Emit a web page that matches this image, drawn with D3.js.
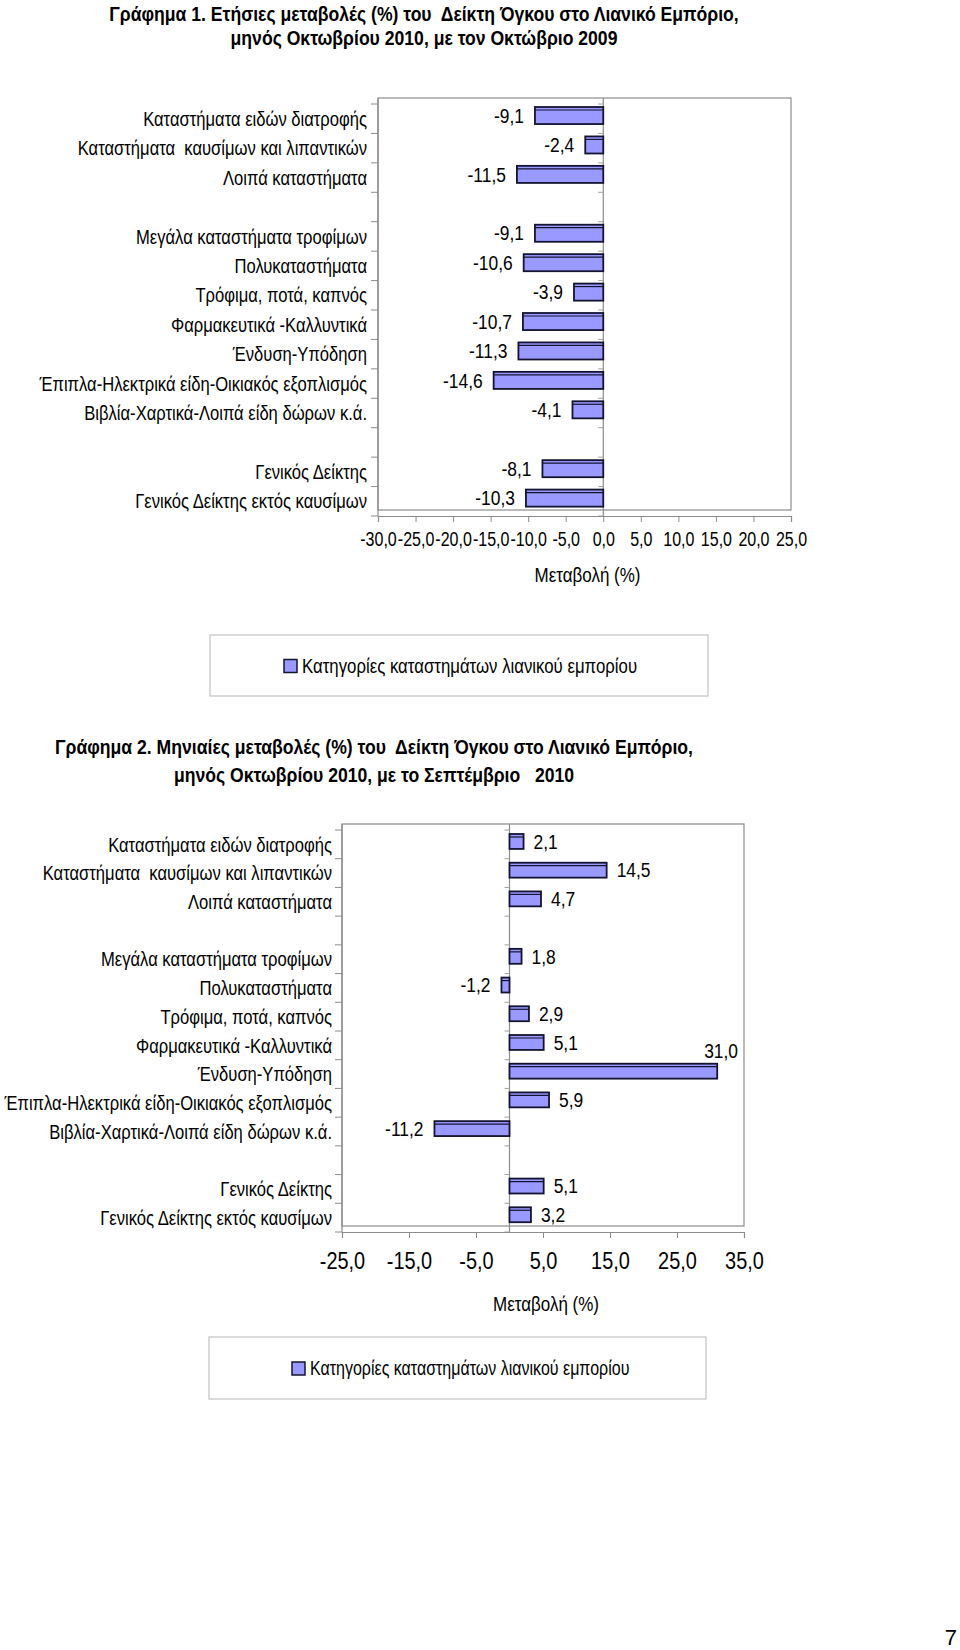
<!DOCTYPE html>
<html>
<head>
<meta charset="utf-8">
<script src="https://cdn.jsdelivr.net/npm/d3@7"></script>
<style>
  body { margin: 0; background: #fff; }
  text { font-family: 'Liberation Sans', Arial, sans-serif; fill: #000; white-space: pre; }
  .title { font-weight: bold; font-size: 20px; }
</style>
</head>
<body>
<svg id="page" width="960" height="1650"></svg>
<script>
// categories ("" = empty spacer row in the original chart)
var categories = [
    "Καταστήματα ειδών διατροφής",
    "Καταστήματα  καυσίμων και λιπαντικών",
    "Λοιπά καταστήματα",
    "",
    "Μεγάλα καταστήματα τροφίμων",
    "Πολυκαταστήματα",
    "Τρόφιμα, ποτά, καπνός",
    "Φαρμακευτικά -Καλλυντικά",
    "Ένδυση-Υπόδηση",
    "Έπιπλα-Ηλεκτρικά είδη-Οικιακός εξοπλισμός",
    "Βιβλία-Χαρτικά-Λοιπά είδη δώρων κ.ά.",
    "",
    "Γενικός Δείκτης",
    "Γενικός Δείκτης εκτός καυσίμων"
];

// Γράφημα 1: annual change Oct 2010 / Oct 2009
var annualValues = [-9.1, -2.4, -11.5, null, -9.1, -10.6, -3.9, -10.7, -11.3, -14.6, -4.1, null, -8.1, -10.3];
var annualTicks = [-30, -25, -20, -15, -10, -5, 0, 5, 10, 15, 20, 25];

// Γράφημα 2: monthly change Oct 2010 / Sep 2010
var monthlyValues = [2.1, 14.5, 4.7, null, 1.8, -1.2, 2.9, 5.1, 31.0, 5.9, -11.2, null, 5.1, 3.2];
var monthlyTicks = [-25, -15, -5, 5, 15, 25, 35];

var title1 = ["Γράφημα 1. Ετήσιες μεταβολές (%) του  Δείκτη Όγκου στο Λιανικό Εμπόριο,",
              "μηνός Οκτωβρίου 2010, με τον Οκτώβριο 2009"];
var title2 = ["Γράφημα 2. Μηνιαίες μεταβολές (%) του  Δείκτη Όγκου στο Λιανικό Εμπόριο,",
              "μηνός Οκτωβρίου 2010, με το Σεπτέμβριο   2010"];
var axisTitle = "Μεταβολή (%)";
var legendLabel = "Κατηγορίες καταστημάτων λιανικού εμπορίου";

var fmt = function(v) { return d3.format(".1f")(v).replace(".", ",").replace("\u2212", "-"); };

var svg = d3.select("#page");

// the source uses a narrow face; squeeze texts horizontally around their anchor
function squeeze(sel, sx) {
    sel.each(function() {
        var t = d3.select(this);
        var x = +t.attr("x") || 0, y = +t.attr("y") || 0;
        t.attr("x", 0).attr("y", 0)
         .attr("transform", "translate(" + x + "," + y + ") scale(" + sx + ",1)");
    });
}

function drawTitle(lines, cx, y0, gap) {
    var t = svg.selectAll(null).data(lines).enter().append("text")
        .attr("class", "title")
        .attr("x", cx)
        .attr("y", (d, i) => y0 + i * gap)
        .attr("text-anchor", "middle")
        .text(d => d);
    squeeze(t, 0.88);
}

function drawChart(o) {
    var x = d3.scaleLinear().domain(o.domain).range([o.left, o.right]);
    var y = d3.scaleBand().domain(d3.range(categories.length)).range([o.top + 6, o.bottom + 6]);
    var g = svg.append("g");
    var x0 = x(0);

    // back wall
    g.append("rect")
        .attr("x", o.left).attr("y", o.top)
        .attr("width", o.right - o.left).attr("height", o.bottom - o.top)
        .attr("fill", "none").attr("stroke", "#8c8c8c").attr("stroke-width", 1.2);
    g.append("line")
        .attr("x1", o.left).attr("x2", o.left)
        .attr("y1", o.top).attr("y2", o.bottom + 6)
        .attr("stroke", "#8c8c8c").attr("stroke-width", 1.2);

    // zero line with its small ticks
    g.append("line")
        .attr("x1", x0).attr("x2", x0)
        .attr("y1", o.top).attr("y2", o.bottom + 6)
        .attr("stroke", "#8c8c8c").attr("stroke-width", 1.2);
    var bounds = d3.range(categories.length + 1).map(i => o.top + 6 + i * y.step());
    g.selectAll(".ztick").data(bounds).enter().append("line")
        .attr("x1", x0 - 5).attr("x2", x0)
        .attr("y1", d => d).attr("y2", d => d)
        .attr("stroke", "#a0a0a0");

    // category axis ticks + labels
    g.selectAll(".ctick").data(bounds).enter().append("line")
        .attr("x1", o.left - 7).attr("x2", o.left)
        .attr("y1", d => d).attr("y2", d => d)
        .attr("stroke", "#8c8c8c");
    var cats = g.selectAll(".cat").data(categories).enter().append("text")
        .attr("x", o.labelRight)
        .attr("y", (d, i) => y(i) + y.bandwidth() / 2)
        .attr("dy", "0.36em")
        .attr("text-anchor", "end")
        .style("font-size", "20px")
        .text(d => d);
    squeeze(cats, 0.83);

    // value axis
    var ax = g.append("g")
        .attr("transform", "translate(0," + (o.bottom + 6) + ")")
        .call(d3.axisBottom(x).tickValues(o.ticks).tickFormat(fmt).tickSize(6).tickPadding(o.tickPad));
    ax.select(".domain").attr("stroke", "#8c8c8c").attr("stroke-width", 1.2);
    ax.selectAll(".tick line").attr("stroke", "#8c8c8c");
    var tt = ax.selectAll(".tick text")
        .style("font-size", o.tickSize + "px")
        .style("font-family", "'Liberation Sans', Arial, sans-serif")
        .attr("fill", "#000");
    squeeze(tt, o.tickSx);

    var at = g.append("text")
        .attr("x", (o.left + o.right) / 2 + 3)
        .attr("y", o.axisTitleY)
        .attr("text-anchor", "middle")
        .style("font-size", "20px")
        .text(axisTitle);
    squeeze(at, 0.85);

    // bars
    var rows = o.values.map((v, i) => ({ v: v, i: i })).filter(d => d.v !== null);
    var barH = y.bandwidth() * o.barFrac;
    var bars = g.selectAll(".bar").data(rows).enter().append("g");
    bars.append("rect")
        .attr("x", d => Math.min(x(d.v), x0))
        .attr("y", d => y(d.i) + o.barOffset)
        .attr("width", d => Math.abs(x(d.v) - x0))
        .attr("height", barH)
        .attr("fill", "#9999ff")
        .attr("stroke", "#141432")
        .attr("stroke-width", 1.8);
    // thin top face of the 3-D bar
    bars.append("line")
        .attr("x1", d => Math.min(x(d.v), x0))
        .attr("x2", d => Math.max(x(d.v), x0))
        .attr("y1", d => y(d.i) + o.barOffset + 3)
        .attr("y2", d => y(d.i) + o.barOffset + 3)
        .attr("stroke", "#141432")
        .attr("stroke-width", 1.2);

    // value labels
    var vals = g.selectAll(".val").data(rows).enter().append("text")
        .style("font-size", "20px")
        .each(function(d) {
            var t = d3.select(this);
            var cy = y(d.i) + o.barOffset + barH / 2;
            var xe = x(d.v);
            if (d.v < 0) {
                t.attr("x", xe - 11).attr("y", cy).attr("dy", "0.36em").attr("text-anchor", "end");
            } else if (xe + 60 > o.right) {
                // no room to the right: sit on top of the bar end
                t.attr("x", Math.min(xe + 22, o.right - 6)).attr("y", cy - barH / 2 - 6).attr("text-anchor", "end");
            } else {
                t.attr("x", xe + 10).attr("y", cy).attr("dy", "0.36em").attr("text-anchor", "start");
            }
            t.text(fmt(d.v));
        });
    squeeze(vals, 0.87);

    // legend
    var lg = svg.append("g");
    lg.append("rect")
        .attr("x", o.legend.x).attr("y", o.legend.y)
        .attr("width", o.legend.w).attr("height", o.legend.h)
        .attr("fill", "none").attr("stroke", "#c4c4c4").attr("stroke-width", 1.2);
    lg.append("rect")
        .attr("x", o.legend.mx).attr("y", o.legend.y + o.legend.h / 2 - 6)
        .attr("width", 13).attr("height", 13)
        .attr("fill", "#9999ff").attr("stroke", "#141432").attr("stroke-width", 1.5);
    var lt = lg.append("text")
        .attr("x", o.legend.mx + 18).attr("y", o.legend.y + o.legend.h / 2)
        .attr("dy", "0.36em")
        .style("font-size", "20px")
        .text(legendLabel);
    squeeze(lt, o.legend.sx);
}

drawTitle(title1, 424, 21, 24);
drawChart({
    values: annualValues, domain: [-30, 25], ticks: annualTicks,
    left: 378, right: 791, top: 98, bottom: 510,
    labelRight: 367, tickSize: 20, tickSx: 0.8, tickPad: 10,
    axisTitleY: 582,
    barFrac: 0.58, barOffset: 3,
    legend: { x: 210, y: 635, w: 498, h: 61, mx: 284, sx: 0.84 }
});

drawTitle(title2, 374, 754, 28);
drawChart({
    values: monthlyValues, domain: [-25, 35], ticks: monthlyTicks,
    left: 342, right: 744, top: 824, bottom: 1226,
    labelRight: 332, tickSize: 24, tickSx: 0.83, tickPad: 14,
    axisTitleY: 1311,
    barFrac: 0.52, barOffset: 4,
    legend: { x: 209, y: 1337, w: 497, h: 62, mx: 292, sx: 0.8 }
});

svg.append("text")
    .attr("x", 957).attr("y", 1645)
    .attr("text-anchor", "end")
    .style("font-size", "22px")
    .text("7");
</script>
</body>
</html>
